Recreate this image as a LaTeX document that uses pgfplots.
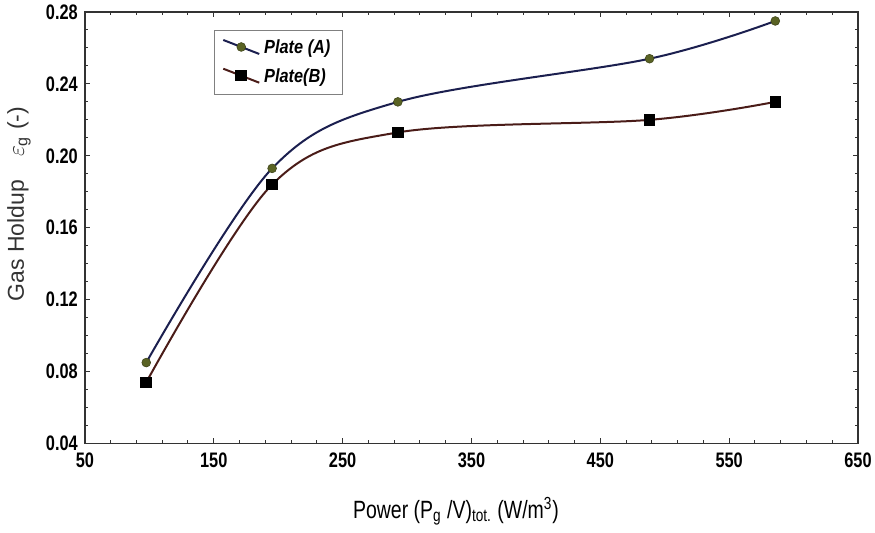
\documentclass[border=0pt]{standalone}
\usepackage{pgfplots}
\pgfplotsset{compat=1.18}
\usepackage{fontspec}
\setmainfont{Liberation Sans}
\newfontfamily\narrowfont[FakeStretch=0.78]{Liberation Sans}
\newfontfamily\legfont[FakeStretch=0.86]{Liberation Sans}
\definecolor{lineA}{HTML}{1B1F4F}
\definecolor{markA}{HTML}{5A6324}
\definecolor{lineB}{HTML}{4A1C18}
\definecolor{frame}{HTML}{333333}
\begin{document}
\begin{tikzpicture}
\path[use as bounding box] (-42.5pt,-44.5pt) rectangle (395.5pt,222pt);
\begin{axis}[
  at={(0pt,0pt)}, anchor=south west,
  scale only axis,
  width=387pt, height=216pt,
  xmin=50, xmax=650, ymin=0.04, ymax=0.28,
  xtick={50,150,...,650},
  ytick={0.04,0.08,0.12,0.16,0.20,0.24,0.28},
  minor x tick num=4,
  minor y tick num=3,
  tick align=inside,
  major tick length=2.5pt,
  minor tick length=1.5pt,
  axis line style={frame, line width=0.6pt},
  every tick/.style={frame, line width=0.5pt},
  /pgf/number format/assume math mode=true,
  yticklabel style={/pgf/number format/.cd, fixed, fixed zerofill, precision=2},
  ticklabel style={font=\narrowfont\bfseries\fontsize{10.5}{12}\selectfont},
  xticklabel style={yshift=-1pt},
  xlabel={Power (P\textsubscript{g} /V)\textsubscript{tot.} (W/m\textsuperscript{3})},
  ylabel={Gas Holdup\quad $\varepsilon_{\mathrm{g}}$ (-)},
  x label style={at={(rel axis cs:0.48,0)}, anchor=center, yshift=-34pt, font=\narrowfont\fontsize{12.5}{14}\selectfont},
  y label style={at={(rel axis cs:0,0.555)}, anchor=center, yshift=33pt, font=\fontsize{11.5}{14}\selectfont, text=black!80},
  legend style={at={(rel axis cs:0.1667,0.958)}, anchor=north west, draw=gray, line width=0.5pt,
    font=\legfont\bfseries\itshape\fontsize{9.5}{12}\selectfont, row sep=2pt, inner xsep=4pt, inner ysep=2.5pt},
  legend cell align=left,
  legend image code/.code={
    \draw[#1, mark=none] (0pt,4pt) -- (18pt,-3pt);
    \draw[#1, only marks] plot coordinates {(9pt,0.5pt)};
  },
]
\addplot[lineA, line width=1pt, smooth, tension=0.55, mark=*, mark size=2.2pt,
  mark options={fill=markA, draw=markA!70!black, line width=0.3pt}]
  coordinates {(97.6,0.085) (195.3,0.193) (292.9,0.230) (488.2,0.254) (585.8,0.275)};
\addlegendentry{Plate (A)}
\addplot[lineB, line width=1pt, smooth, tension=0.55, mark=square*, mark size=2.4pt,
  mark options={fill=black, draw=black}]
  coordinates {(97.6,0.074) (195.3,0.184) (292.9,0.213) (488.2,0.220) (585.8,0.230)};
\addlegendentry{Plate(B)}
\end{axis}
\end{tikzpicture}
\end{document}
